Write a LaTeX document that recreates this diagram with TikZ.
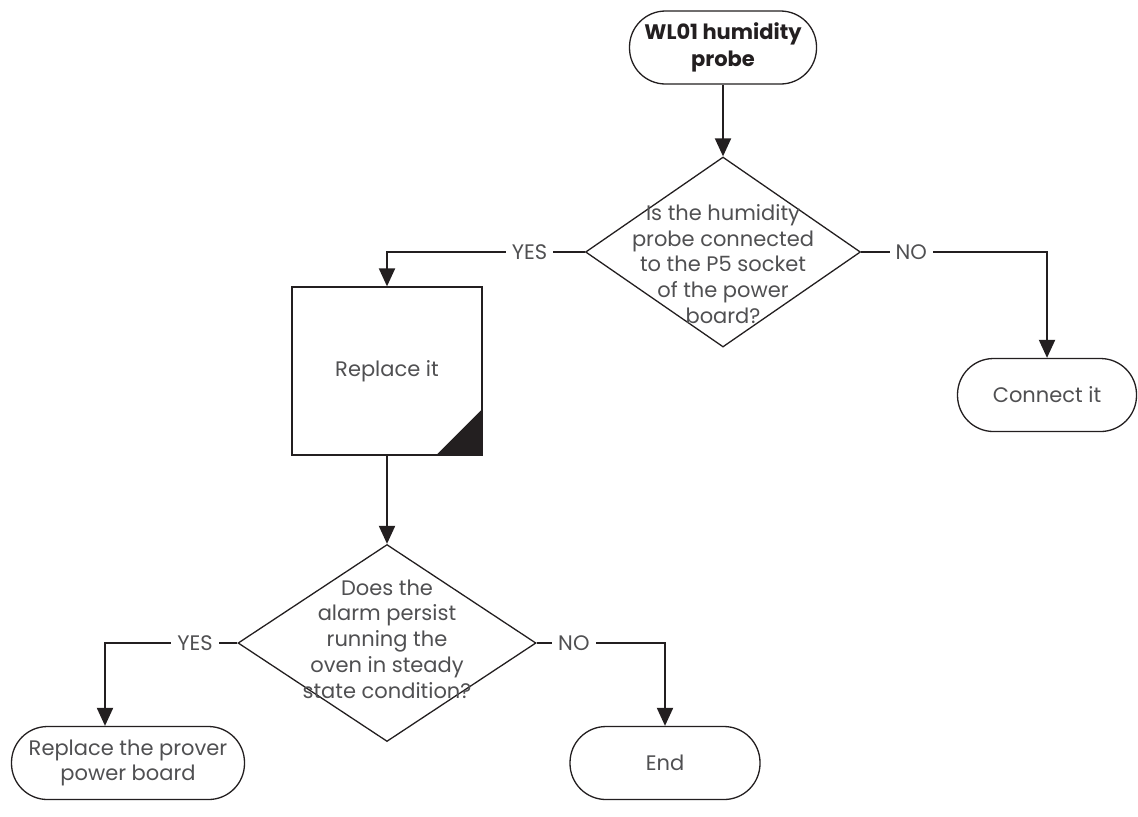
\documentclass[tikz,border=0pt]{standalone}
\usepackage{fontspec}
\setmainfont{Poppins}
\usetikzlibrary{arrows.meta,positioning,shapes.geometric}
\definecolor{FcInk}{RGB}{35,31,32}
\definecolor{FcText}{RGB}{80,80,82}
\newcommand\fcfont{\fontsize{10.5}{12.85}\selectfont}
\tikzset{
  fc/term/.style={
    draw=FcInk,
    line width=0.65pt,
    rounded corners=18pt,
    fill=white,
    align=center,
    text=FcText,
    minimum height=36.5pt,
    inner sep=2pt,
    font=\fcfont
  },
  fc/start/.style={
    fc/term,
    text=FcInk,
    font=\fontsize{10.5}{13.5}\selectfont\bfseries
  },
  fc/process/.style={
    draw=FcInk,
    line width=0.65pt,
    fill=white,
    align=center,
    text=FcText,
    inner sep=2pt,
    font=\fcfont
  },
  fc/decision/.style={
    diamond,
    draw=FcInk,
    line width=0.65pt,
    fill=white,
    inner sep=0pt
  },
  fc/qtext/.style={align=center, text=FcText, font=\fcfont, inner sep=0pt},
  fc/arrow/.style={-{Triangle[length=9pt,width=8pt]}, line width=1pt, draw=FcInk},
  fc/lbl/.style={fill=white, text=FcText, font=\fcfont, inner sep=3pt}
}

\begin{document}
\begin{tikzpicture}[x=0.5pt,y=-0.5pt]
  \useasboundingbox (0,0) rectangle (1138,816);
  \node[fc/start,minimum width=93.5pt] (probe) at (723,47.5) {WL01 humidity\\probe};
  \node[fc/decision,minimum width=137.5pt,minimum height=95pt,
    label={[fc/qtext,yshift=-6pt]center:{Is the humidity\\probe connected\\to the P5 socket\\of the power\\board?}}]
    (connected) at (723,252) {};
  \node[fc/process,minimum width=95pt,minimum height=84pt] (replace) at (387,371) {Replace it};
  \fill[FcInk] (replace.south east) -- ([xshift=-23.5pt]replace.south east)
    -- ([yshift=23.5pt]replace.south east) -- cycle;
  \node[fc/term,minimum width=89.5pt] (connect) at (1047,395) {Connect it};
  \node[fc/decision,minimum width=149pt,minimum height=98.5pt,
    label={[fc/qtext,yshift=2pt]center:{Does the\\alarm persist\\running the\\oven in steady\\state condition?}}]
    (persist) at (387,643) {};
  \node[fc/term,minimum width=116.5pt] (board) at (128,763) {Replace the prover\\power board};
  \node[fc/term,minimum width=95pt] (end) at (665,763) {End};
  \coordinate (boardin) at ([xshift=-11.5pt]board.north);

  % connectors
  \draw[fc/arrow] (probe) -- (connected);
  \draw[fc/arrow] (connected.west) -- node[fc/lbl,pos=0.28]{YES} (connected.west -| replace) -- (replace);
  \draw[fc/arrow] (connected.east) -- node[fc/lbl,pos=0.27]{NO} (connected.east -| connect) -- (connect);
  \draw[fc/arrow] (replace) -- (persist);
  \draw[fc/arrow] (persist.west) -- node[fc/lbl,pos=0.32]{YES} (persist.west -| boardin) -- (boardin);
  \draw[fc/arrow] (persist.east) -- node[fc/lbl,pos=0.29]{NO} (persist.east -| end) -- (end);
\end{tikzpicture}
\end{document}
